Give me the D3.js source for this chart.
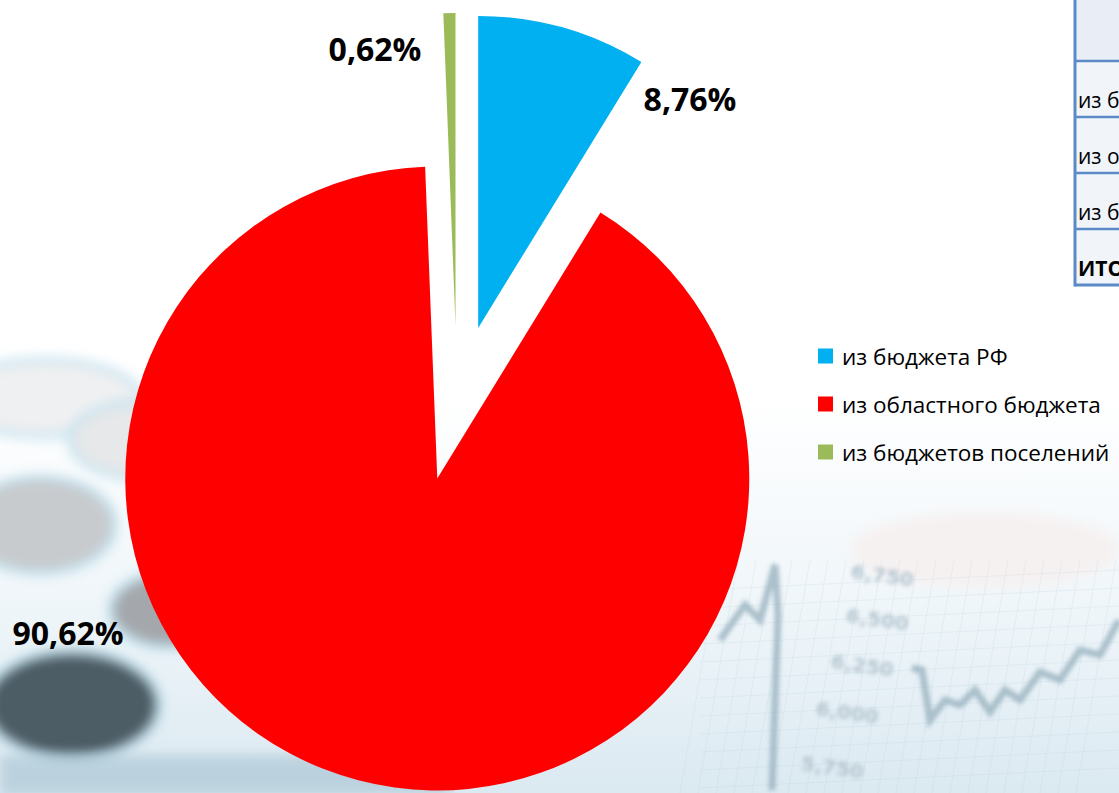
<!DOCTYPE html>
<html><head><meta charset="utf-8">
<script src="https://cdn.jsdelivr.net/npm/d3@7"></script>
<style>
html,body{margin:0;padding:0;background:#fff;overflow:hidden;}
svg{display:block;}
</style></head>
<body>
<svg id="chart" width="1119" height="793"></svg>
<script>
// ---- data ----
const categories = ["из бюджета РФ", "из областного бюджета", "из бюджетов поселений"];
const values = [8.76, 90.62, 0.62];
const valueLabels = ["8,76%", "90,62%", "0,62%"];
const colors = ["#00B0F0", "#FF0000", "#9BBB59"];
const tableRows = ["из бюджета РФ", "из областного бюджета", "из бюджетов поселений", "ИТОГО"];

const W = 1119, H = 793;
const svg = d3.select("#chart");
const defs = svg.append("defs");

// ---- faded photo-like background ----
const g1 = defs.append("linearGradient").attr("id","bgGrad").attr("x1",0).attr("y1",0).attr("x2",0).attr("y2",1);
g1.append("stop").attr("offset","0%").attr("stop-color","#ffffff");
g1.append("stop").attr("offset","50%").attr("stop-color","#ffffff");
g1.append("stop").attr("offset","78%").attr("stop-color","#eef5f9");
g1.append("stop").attr("offset","100%").attr("stop-color","#dbe9f1");
svg.append("rect").attr("width",W).attr("height",H).attr("fill","url(#bgGrad)");

const blur = defs.append("filter").attr("id","blur").attr("x","-50%").attr("y","-50%").attr("width","200%").attr("height","200%");
blur.append("feGaussianBlur").attr("stdDeviation",6);
const blur2 = defs.append("filter").attr("id","blur2").attr("x","-50%").attr("y","-50%").attr("width","200%").attr("height","200%");
blur2.append("feGaussianBlur").attr("stdDeviation",2);

const deco = svg.append("g");
// calculator buttons
const btn = [
  {cx:45, cy:398, rx:95, ry:38, f:"#eff0f1"},
  {cx:140, cy:440, rx:70, ry:38, f:"#e6e8ea"},
  {cx:40, cy:525, rx:75, ry:48, f:"#c8cbce"},
  {cx:170, cy:610, rx:60, ry:38, f:"#a4a8ac"},
  {cx:72, cy:705, rx:88, ry:55, f:"#4e5d66"}
];
deco.selectAll("ellipse.btn").data(btn).join("ellipse")
  .attr("cx",d=>d.cx).attr("cy",d=>d.cy).attr("rx",d=>d.rx).attr("ry",d=>d.ry)
  .attr("fill",d=>d.f).attr("stroke","#c3e2ef").attr("stroke-width",6).attr("filter","url(#blur)");
deco.append("rect").attr("x",0).attr("y",755).attr("width",450).attr("height",40).attr("fill","#a6c2d1").attr("filter","url(#blur)").attr("opacity",0.6);
// chart sheet on right
deco.append("ellipse").attr("cx",985).attr("cy",550).attr("rx",135).attr("ry",38).attr("fill","#f6f1f1").attr("filter","url(#blur)");
const grid = deco.append("g").attr("opacity",0.3).attr("stroke","#a8c8d8").attr("stroke-width",0.6);
for (let x=720; x<W; x+=18) grid.append("line").attr("x1",x).attr("y1",560).attr("x2",x-40).attr("y2",H);
for (let y=590; y<H; y+=18) grid.append("line").attr("x1",700).attr("y1",y).attr("x2",W).attr("y2",y-20);
const ticks = [["6,750",850,578],["6,500",845,622],["6,250",830,668],["6,000",815,715],["5,750",800,770]];
deco.selectAll("text.tk").data(ticks).join("text")
  .attr("x",d=>d[1]).attr("y",d=>d[2]).attr("transform",d=>`rotate(8,${d[1]},${d[2]})`)
  .attr("font-family","DejaVu Sans").attr("font-weight","bold").attr("font-size",20)
  .attr("fill","#b6c6d0").attr("filter","url(#blur2)").text(d=>d[0]);
deco.append("path").attr("d","M720,640 L745,605 L760,620 L775,565 L778,615 L772,790")
  .attr("fill","none").attr("stroke","#9ab3c0").attr("stroke-width",7).attr("filter","url(#blur2)").attr("opacity",0.8);
deco.append("path").attr("d","M912,668 L922,670 L930,720 L945,700 L960,705 L975,690 L990,712 L1005,690 L1020,700 L1040,672 L1060,680 L1080,650 L1100,655 L1119,620")
  .attr("fill","none").attr("stroke","#9ab3c0").attr("stroke-width",7).attr("filter","url(#blur2)").attr("opacity",0.8);

// ---- pie ----
const cx = 457, cy = 403, R = 312, explode = 78;
const pie = d3.pie().sort(null).value(d=>d)(values);
const arc = d3.arc().innerRadius(0).outerRadius(R);
const pg = svg.append("g").attr("transform",`translate(${cx},${cy})`);
pg.selectAll("path.slice").data(pie).join("path")
  .attr("class","slice")
  .attr("d",arc)
  .attr("fill",(d,i)=>colors[i])
  .attr("transform",d=>{
    const a=(d.startAngle+d.endAngle)/2;
    return `translate(${explode*Math.sin(a)},${-explode*Math.cos(a)})`;
  });

// data labels
const lbl = [ [690,98], [68,632], [375,48] ];
pg.selectAll("text.lbl").data(pie).join("text")
  .attr("class","lbl")
  .attr("x",(d,i)=>lbl[i][0]-cx).attr("y",(d,i)=>lbl[i][1]-cy)
  .attr("text-anchor","middle").attr("dominant-baseline","central")
  .attr("font-family","'Open Sans', sans-serif").attr("font-weight","bold").attr("font-size",32)
  .attr("fill","#000").text((d,i)=>valueLabels[i]);

// ---- legend ----
const lg = svg.append("g").attr("transform","translate(818,356)");
const item = lg.selectAll("g").data(categories).join("g").attr("transform",(d,i)=>`translate(0,${i*48})`);
item.append("rect").attr("x",0).attr("y",-7.5).attr("width",15).attr("height",15).attr("fill",(d,i)=>colors[i]);
item.append("text").attr("x",24).attr("y",0).attr("dominant-baseline","central")
  .attr("font-family","'Open Sans', sans-serif").attr("font-size",22.5).attr("fill","#000").text(d=>d);

// ---- table (cut off at right edge, as in the reference) ----
const tg = svg.append("g");
const tx = 1075;
const rowY = [0, 61, 117, 173, 229, 285];
tg.append("rect").attr("x",tx).attr("y",-2).attr("width",W-tx+4).attr("height",63).attr("fill","#e9eef6");
tg.append("rect").attr("x",tx).attr("y",61).attr("width",W-tx+4).attr("height",224).attr("fill","#f1f4f9");
tg.selectAll("text.row").data(tableRows).join("text")
  .attr("x",tx+3).attr("y",(d,i)=>rowY[i+1]+47)
  .attr("font-family","'Open Sans', sans-serif").attr("font-size",21)
  .attr("font-weight",(d,i)=>i===3?"bold":"normal").attr("fill","#000").text(d=>d);
tg.selectAll("line.h").data(rowY.slice(1)).join("line")
  .attr("x1",tx).attr("x2",W).attr("y1",d=>d).attr("y2",d=>d)
  .attr("stroke","#5b8ac6").attr("stroke-width",(d,i)=>i===4?3:2.5);
tg.append("line").attr("x1",tx).attr("x2",tx).attr("y1",0).attr("y2",286.5).attr("stroke","#5b8ac6").attr("stroke-width",3);
</script>
</body></html>
